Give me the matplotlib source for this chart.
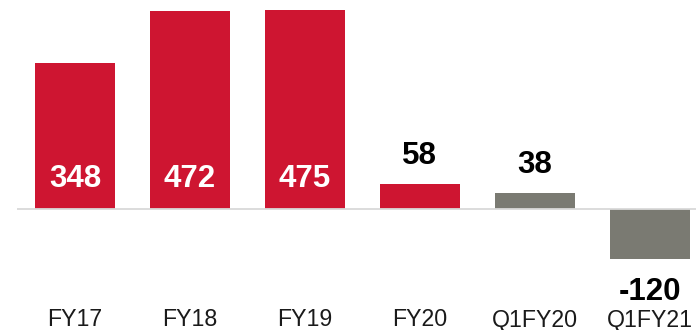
import matplotlib
matplotlib.use("Agg")
import matplotlib.pyplot as plt
import matplotlib.transforms as mtransforms

categories = ["FY17", "FY18", "FY19", "FY20", "Q1FY20", "Q1FY21"]
values = [348, 472, 475, 58, 38, -120]
bar_colors = ["#CE1531", "#CE1531", "#CE1531", "#CE1531", "#7A7A72", "#7A7A72"]
inside_labels = [True, True, True, False, False, False]

plt.rcParams["font.family"] = ["Liberation Sans", "DejaVu Sans"]

W, H = 696, 330
fig = plt.figure(figsize=(W / 100, H / 100), dpi=100)
left_px = 17
ax = fig.add_axes([left_px / W, 0, (W - left_px) / W, 1])

px_per_unit = 0.418
base_px = 208.5
ax.set_ylim(-(H - base_px) / px_per_unit, base_px / px_per_unit)
ax.set_xlim(-0.504, 5.4)

x = list(range(len(categories)))
ax.bar(x, values, width=0.696, color=bar_colors, zorder=2)
ax.axhline(0, color="#D9D9D9", lw=1.3, zorder=3)

label_size = 22.5
for xi, v, inside in zip(x, values, inside_labels):
    if inside:
        ax.annotate(str(v), (xi, 0), xytext=(0, 29.5), textcoords="offset pixels",
                    ha="center", va="center", color="white", fontsize=label_size,
                    fontweight="bold", zorder=4)
    elif v >= 0:
        ax.annotate(str(v), (xi, v), xytext=(0, 28), textcoords="offset pixels",
                    ha="center", va="center", color="black", fontsize=label_size,
                    fontweight="bold", zorder=4)
    else:
        ax.annotate(str(v), (xi, v), xytext=(0, -33), textcoords="offset pixels",
                    ha="center", va="center", color="black", fontsize=label_size,
                    fontweight="bold", zorder=4)

trans = mtransforms.blended_transform_factory(ax.transData, ax.transAxes)
for xi, c in zip(x, categories):
    ax.text(xi, (H - 320) / H, c, transform=trans, ha="center", va="center",
            fontsize=16.7, color="#1A1A1A")

ax.axis("off")
fig.savefig("out.png", dpi=100)
